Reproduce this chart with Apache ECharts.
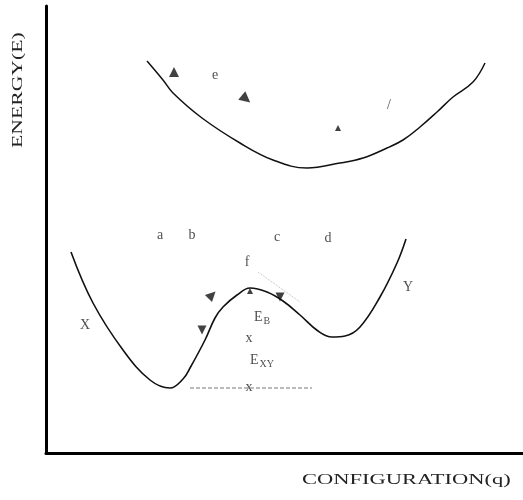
<!DOCTYPE html>
<html>
<head>
<meta charset="utf-8">
<script src="https://cdn.jsdelivr.net/npm/echarts@6/dist/echarts.min.js"></script>
<style>
  html, body { margin: 0; padding: 0; background: #fff; }
  #main { width: 523px; height: 500px; }
</style>
</head>
<body>
<div id="main"></div>
<script>
// 上面的曲线 (激发态)
var upperCurve = [
    [101, 392], [117, 373], [127, 360], [156, 335], [194, 310], [227, 293],
    [261, 285], [294, 290], [317, 295], [341, 305], [357, 313], [374, 326],
    [391, 341], [407, 356], [427, 371], [439, 390]
];
// 下面的双势阱曲线
var lowerCurve = [
    [25, 201], [47, 150], [77, 103], [104, 73], [124, 65], [137, 74], [144, 85],
    [159, 113], [169, 135], [177, 146], [191, 158], [204, 165], [221, 161],
    [237, 152], [254, 138], [272, 122], [286, 116], [299, 117], [314, 126],
    [334, 156], [351, 190], [360, 214]
];
// 虚线
var baseLine = [[144, 65], [266, 65]];
var fLine = [[212, 181], [254, 151]];

// 箭头: [x, y, 旋转角, 大小]
var arrows = [
    [128, 381, 0, 10],
    [200, 354, -130, 11],
    [292, 325, 0, 6],
    [166, 158, -45, 10],
    [156, 123, 180, 9],
    [204, 162, 0, 6],
    [234, 156, 180, 9]
];

// 文字标注
var labels = [
    [114, 218, 'a'], [146, 218, 'b'], [231, 216, 'c'], [282, 215, 'd'],
    [201, 191, 'f'], [39, 128, 'X'], [362, 166, 'Y'],
    [216, 136, '{m|E}{s|B}'], [216, 93, '{m|E}{s|XY}'],
    [169, 378, 'e'], [343, 348, '/'],
    [203, 115, 'x'], [203, 66, 'x']
];

var myChart = echarts.init(document.getElementById('main'));

var option = {
    animation: false,
    grid: { left: 46, right: 0, top: 6, bottom: 47 },
    xAxis: {
        type: 'value', min: 0, max: 477,
        axisLine: { show: true, lineStyle: { color: '#000', width: 3 } },
        axisTick: { show: false }, axisLabel: { show: false }, splitLine: { show: false }
    },
    yAxis: {
        type: 'value', min: 0, max: 447,
        axisLine: { show: true, lineStyle: { color: '#000', width: 3 } },
        axisTick: { show: false }, axisLabel: { show: false }, splitLine: { show: false }
    },
    graphic: [
        {
            type: 'text', x: 11, y: 148, rotation: Math.PI / 2, scaleX: 1.55,
            style: { text: 'ENERGY(E)', font: '14px "Liberation Serif"', fill: '#222', textVerticalAlign: 'top' }
        },
        {
            type: 'text', x: 302, y: 473, scaleX: 1.5,
            style: { text: 'CONFIGURATION(q)', font: '15px "Liberation Serif"', fill: '#222', textVerticalAlign: 'top' }
        }
    ],
    series: [
        {
            type: 'line', data: upperCurve, smooth: 0.4, symbol: 'none',
            lineStyle: { color: '#111', width: 1.5 }
        },
        {
            type: 'line', data: lowerCurve, smooth: 0.4, symbol: 'none',
            lineStyle: { color: '#111', width: 1.6 }
        },
        {
            type: 'line', data: baseLine, symbol: 'none',
            lineStyle: { color: '#777', width: 1, type: 'dashed' }
        },
        {
            type: 'line', data: fLine, symbol: 'none',
            lineStyle: { color: '#bbb', width: 1, type: 'dotted' }
        },
        {
            type: 'scatter',
            data: arrows.map(function (a) {
                return { value: [a[0], a[1]], symbolRotate: a[2], symbolSize: a[3] };
            }),
            symbol: 'triangle',
            itemStyle: { color: '#111' }
        },
        {
            type: 'scatter',
            data: labels.map(function (l) { return { value: [l[0], l[1]], name: l[2] }; }),
            symbolSize: 0,
            label: {
                show: true, position: 'inside', formatter: '{b}',
                fontFamily: 'Liberation Serif', fontSize: 14, color: '#222',
                rich: {
                    m: { fontFamily: 'Liberation Serif', fontSize: 14, color: '#222' },
                    s: { fontFamily: 'Liberation Serif', fontSize: 10, color: '#222', padding: [8, 0, 0, 1] }
                }
            }
        }
    ]
};

myChart.setOption(option);
</script>
</body>
</html>
